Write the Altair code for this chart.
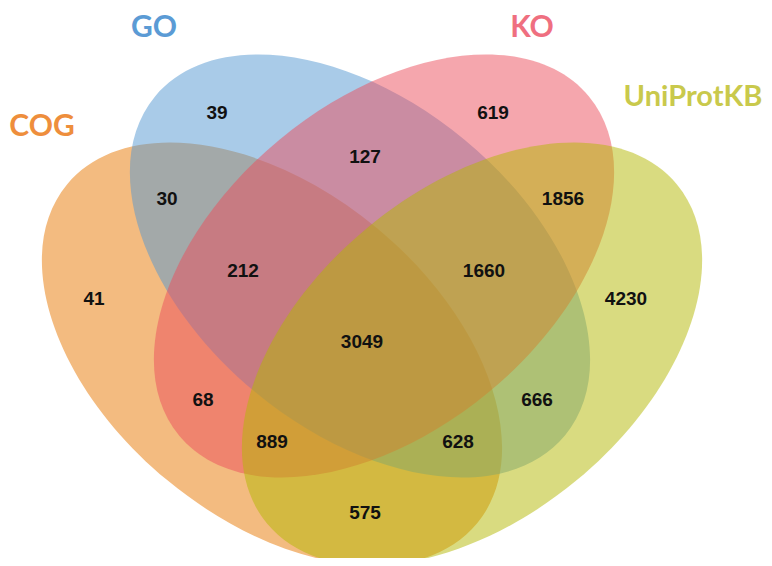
import altair as alt
import pandas as pd

# ---- data ----
sets = ["COG", "GO", "KO", "UniProtKB"]
region_counts = [41, 39, 619, 4230, 30, 127, 1856, 575, 68, 666, 212, 1660, 889, 628, 3049]
region_names = ["COG", "GO", "KO", "UniProtKB", "COG&GO", "GO&KO", "KO&UniProtKB",
                "COG&UniProtKB", "COG&KO", "GO&UniProtKB", "COG&GO&KO",
                "GO&KO&UniProtKB", "COG&KO&UniProtKB", "COG&GO&UniProtKB", "all"]

# ---- layout (pixel space of the page) ----
ell_cx = [272, 360, 384, 472]
ell_cy = [354, 266, 266, 354]
ell_angle = [39.6, 39.6, 320.4, 320.4]
region_x = [94, 217, 493, 626, 167, 365, 563, 365, 203, 537, 243, 484, 272, 458, 362]
region_y = [299, 113, 113, 299, 199, 157, 199, 513, 400, 400, 271, 271, 442, 442, 342]
label_x = [42, 154, 532, 693]
label_y = [127, 28, 28, 97]
label_size = [30, 30, 30, 29]

# ---- styles ----
fill_colors = ["#e77701", "#5397d1", "#eb4d5b", "#b3b701"]
label_colors = ["#ee8e3c", "#5b9bd5", "#ef6f80", "#c9c94c"]
ELLIPSE = ("M1,0 C1,0.3405 0.5523,0.6165 0,0.6165 C-0.5523,0.6165 -1,0.3405 -1,0 "
           "C-1,-0.3405 -0.5523,-0.6165 0,-0.6165 C0.5523,-0.6165 1,-0.3405 1,0 Z")
ELL_SIZE = (2 * 266) ** 2

W, H = 756, 550
xs = alt.Scale(domain=[8, 8 + W], nice=False, zero=False)
ys = alt.Scale(domain=[8, 8 + H], nice=False, zero=False, reverse=True)

ell_df = pd.DataFrame({"set": sets, "cx": ell_cx, "cy": ell_cy,
                       "angle": ell_angle, "idx": list(range(len(sets)))})
reg_df = pd.DataFrame({"region": region_names, "count": region_counts,
                       "x": region_x, "y": region_y})
lab_df = pd.DataFrame({"set": sets, "x": label_x, "y": label_y, "fs": label_size})

ellipses = alt.Chart(ell_df).mark_point(
    filled=True, opacity=0.5, shape=ELLIPSE, size=ELL_SIZE, strokeWidth=0
).encode(
    x=alt.X("cx:Q", scale=xs, axis=None),
    y=alt.Y("cy:Q", scale=ys, axis=None),
    angle=alt.Angle("angle:Q", scale=None),
    color=alt.Color("set:N", scale=alt.Scale(domain=sets, range=fill_colors), legend=None),
    order=alt.Order("idx:Q"),
)

numbers = alt.Chart(reg_df).mark_text(
    font="Liberation Sans", fontWeight="bold", fontSize=19, color="#111111",
    align="center", baseline="middle"
).encode(
    x=alt.X("x:Q", scale=xs, axis=None),
    y=alt.Y("y:Q", scale=ys, axis=None),
    text=alt.Text("count:Q", format="d"),
)

labels = alt.Chart(lab_df).mark_text(
    font="Lato", fontWeight="bold", align="center", baseline="middle"
).encode(
    x=alt.X("x:Q", scale=xs, axis=None),
    y=alt.Y("y:Q", scale=ys, axis=None),
    text="set:N",
    size=alt.Size("fs:Q", scale=None),
    color=alt.Color("set:N", scale=alt.Scale(domain=sets, range=label_colors), legend=None),
)

chart = alt.layer(ellipses, numbers, labels).resolve_scale(color="independent").properties(
    width=W, height=H, padding=0, autosize="none", background="white"
).configure_view(stroke=None)

chart.save("out.html", embed_options={"renderer": "svg", "actions": False})
